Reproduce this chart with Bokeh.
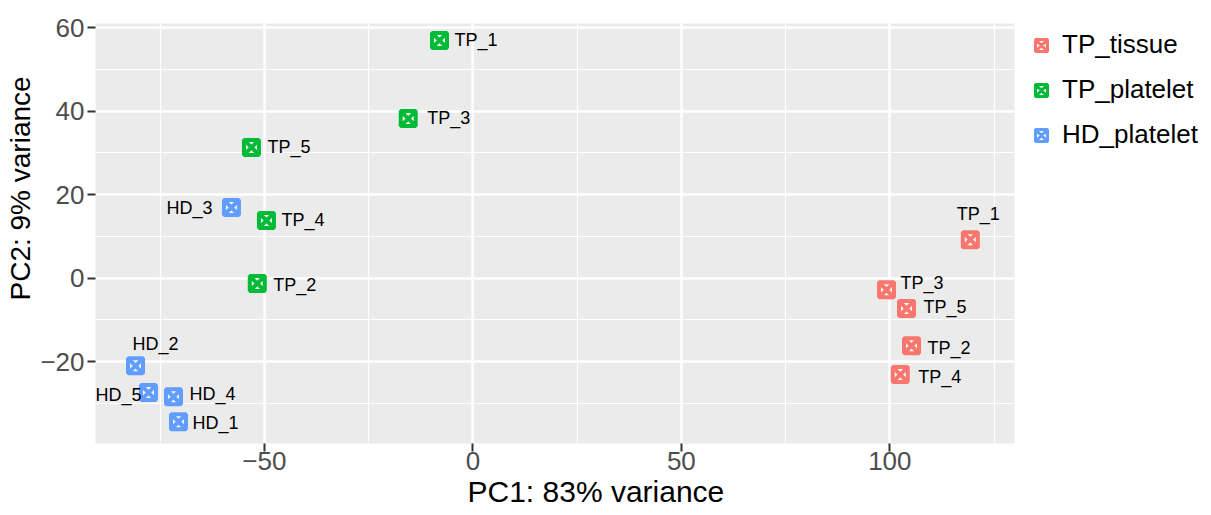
from bokeh.plotting import figure
from bokeh.models import (FixedTicker, Legend, LegendItem, ColumnDataSource, Title,
                          LabelSet)
from bokeh.core.properties import value
from bokeh.embed import file_html
from bokeh.resources import INLINE

# ---------------- data ----------------
groups = ["TP_tissue", "TP_platelet", "HD_platelet"]
group_colors = ["#F8766D", "#00BA38", "#619CFF"]

tissue_names = ["TP_1", "TP_3", "TP_5", "TP_2", "TP_4"]
tissue_pc1 = [119.3, 99.2, 104.0, 105.2, 102.5]
tissue_pc2 = [9.2, -2.8, -7.3, -16.2, -23.1]

platelet_names = ["TP_1", "TP_3", "TP_5", "TP_4", "TP_2"]
platelet_pc1 = [-8.0, -15.5, -53.1, -49.5, -51.7]
platelet_pc2 = [56.9, 38.2, 31.3, 13.8, -1.3]

hd_names = ["HD_3", "HD_2", "HD_5", "HD_4", "HD_1"]
hd_pc1 = [-57.9, -80.9, -77.8, -71.8, -70.6]
hd_pc2 = [16.9, -21.0, -27.4, -28.4, -34.4]

x_ticks = [-50, 0, 50, 100]
x_tick_labels = ["\u221250", "0", "50", "100"]
x_minor = [-75, -25, 25, 75, 125]
y_ticks = [-20, 0, 20, 40, 60]
y_tick_labels = ["\u221220", "0", "20", "40", "60"]
y_minor = [-30, -10, 10, 30, 50]

x_title = "PC1: 83% variance"
y_title = "PC2: 9% variance"

# label placement (repel-style nudges, screen px; positive dy = up)
tissue_dx = [8, 14, 17, 16, 18]
tissue_dy = [26, 7, 2, -2, -2]
tissue_align = ["center", "left", "left", "left", "left"]
platelet_dx = [15, 19, 16, 15, 16]
platelet_dy = [0, 1, 0, 0, -1]
platelet_align = ["left"] * 5
hd_dx = [-19, 20, -7, 16, 14]
hd_dy = [0, 22, -2, 3, -1]
hd_align = ["right", "center", "right", "left", "left"]

FONT = "Liberation Sans"

p = figure(
    output_backend="svg", toolbar_location=None,
    frame_width=919, frame_height=420,
    x_range=(-90.5, 129.9), y_range=(-39.6, 60.96),
    min_border_left=86, min_border_top=23, min_border_bottom=0, min_border_right=0,
    background_fill_color="#EBEBEB", border_fill_color="white",
    outline_line_color=None,
)

for ax, ticks, minor, labels in ((p.xaxis, x_ticks, x_minor, x_tick_labels),
                                 (p.yaxis, y_ticks, y_minor, y_tick_labels)):
    ax.ticker = FixedTicker(ticks=ticks, minor_ticks=minor)
    ax.major_label_overrides = {t: l for t, l in zip(ticks, labels)}
    ax.axis_line_color = None
    ax.major_tick_line_color = "#333333"
    ax.major_tick_line_width = 2
    ax.major_tick_out = 8
    ax.major_tick_in = 0
    ax.minor_tick_line_color = None
    ax.major_label_text_font = FONT
    ax.major_label_text_font_size = "26px"
    ax.major_label_text_color = "#4D4D4D"

p.xaxis.major_label_standoff = 0
p.yaxis.major_label_standoff = 3

for g in (p.xgrid, p.ygrid):
    g.grid_line_color = "white"
    g.grid_line_width = 2.4
    g.minor_grid_line_color = "white"
    g.minor_grid_line_width = 1.2

series = [
    (tissue_names, tissue_pc1, tissue_pc2, tissue_dx, tissue_dy, tissue_align),
    (platelet_names, platelet_pc1, platelet_pc2, platelet_dx, platelet_dy, platelet_align),
    (hd_names, hd_pc1, hd_pc2, hd_dx, hd_dy, hd_align),
]

items = []
for (names, xs, ys, dx, dy, al), grp, col in zip(series, groups, group_colors):
    src = ColumnDataSource(dict(x=xs, y=ys, name=names))
    p.scatter("x", "y", source=src, marker="square_x", size=15,
              fill_color="#F7F7F7", line_color=col, line_width=4)
    for a in ("left", "center", "right"):
        idx = [i for i, v in enumerate(al) if v == a]
        if not idx:
            continue
        sub = ColumnDataSource(dict(x=[xs[i] for i in idx], y=[ys[i] for i in idx],
                                    name=[names[i] for i in idx],
                                    dx=[dx[i] for i in idx], dy=[dy[i] for i in idx]))
        p.add_layout(LabelSet(x="x", y="y", text="name", source=sub,
                              x_offset="dx", y_offset="dy",
                              text_align=a, text_baseline="middle",
                              text_font=value(FONT), text_font_size="18px",
                              text_color="black"))
    dummy = p.scatter(x=[float("nan")], y=[float("nan")], marker="square_x", size=12,
                      fill_color="#F7F7F7", line_color=col, line_width=3)
    items.append(LegendItem(label=grp, renderers=[dummy]))

legend = Legend(items=items, location="top_left", orientation="vertical",
                glyph_width=42, glyph_height=30, label_standoff=0,
                label_text_font=FONT, label_text_font_size="26px",
                label_text_color="black", spacing=14, padding=0, margin=6,
                border_line_color=None, background_fill_color="white",
                label_text_baseline="middle")
p.add_layout(legend, "right")

p.add_layout(Title(text=x_title, align="left", offset=372, text_font=FONT,
                   text_font_size="30px", text_font_style="normal",
                   text_color="black", standoff=1), "below")
p.add_layout(Title(text=y_title, align="left", offset=143, text_font=FONT,
                   text_font_size="28px", text_font_style="normal",
                   text_color="black", standoff=4), "left")

open("out.html", "w").write(file_html(p, INLINE))
